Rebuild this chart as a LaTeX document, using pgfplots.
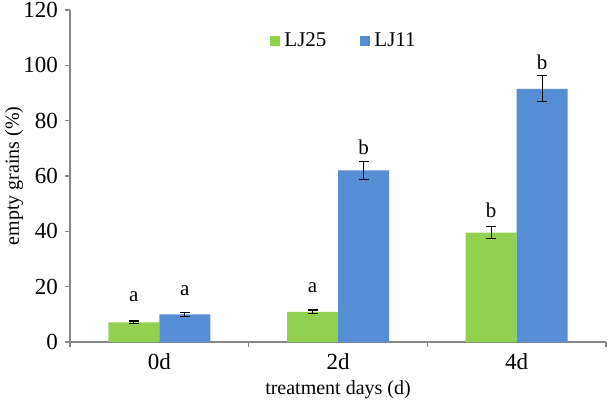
\documentclass[border=0pt]{standalone}
\usepackage{pgfplots}
\pgfplotsset{compat=1.18}
\usepackage{fontspec}
\setmainfont{Liberation Serif}
\definecolor{cg}{RGB}{146,208,80}
\definecolor{cb}{RGB}{85,142,213}
\definecolor{axgrey}{RGB}{134,134,134}
\begin{document}
\begin{tikzpicture}
\begin{axis}[
  scale only axis,
  width=268pt, height=166pt,
  xmin=-0.5, xmax=2.5, ymin=0, ymax=120,
  ytick={0,20,40,60,80,100,120},
  xtick={-0.5,0.5,1.5,2.5},
  xticklabels={},
  extra x ticks={0,1,2},
  extra x tick labels={0d,2d,4d},
  extra x tick style={major tick length=0pt, xticklabel style={yshift=-2pt}},
  axis x line=bottom, axis y line=left,
  axis line style={draw=axgrey, line width=0.7pt, -},
  tick style={draw=axgrey, line width=0.7pt},
  tick align=outside,
  major tick length=2.5pt,
  tick label style={font=\fontsize{11.5}{12}\selectfont},
  /pgf/number format/assume math mode=true,
  every axis y label/.style={at={(axis description cs:0,0.5)}, xshift=-28pt, rotate=90, anchor=center, font=\fontsize{10}{12}\selectfont},
  every axis x label/.style={at={(axis description cs:0.5,0)}, yshift=-24pt, anchor=center, font=\fontsize{10}{12}\selectfont},
  ylabel={empty grains (\%)},
  xlabel={treatment days (d)},
  ybar, bar width=25.5pt,
  legend style={draw=none, fill=none, legend columns=2, at={(0.362,0.907)}, anchor=west,
    font=\fontsize{10.5}{11}\selectfont,
    /tikz/every even column/.append style={column sep=15pt}},
  error bars/error bar style={draw=black, line width=0.6pt},
  error bars/error mark options={rotate=90, mark size=2.5pt, line width=0.6pt, draw=black},
  clip=false,
]
\addplot[bar shift=-12.75pt, fill=cg, draw=none,
  legend image code/.code={\fill[cg] (0pt,-2.5pt) rectangle (5pt,2.5pt);},
  error bars/.cd, y dir=both, y explicit]
  table[x=x, y=y, y error=e] {
x y e
0 7.1 0.5
1 10.9 0.7
2 39.5 2.2
};
\addlegendentry{LJ25}
\addplot[bar shift=12.75pt, fill=cb, draw=none,
  legend image code/.code={\fill[cb] (0pt,-2.5pt) rectangle (5pt,2.5pt);},
  error bars/.cd, y dir=both, y explicit]
  table[x=x, y=y, y error=e] {
x y e
0 10.0 0.7
1 62.0 3.2
2 91.5 4.7
};
\addlegendentry{LJ11}
\addplot[forget plot, bar shift=-12.75pt, draw=none, fill=none,
  nodes near coords, point meta=explicit symbolic,
  every node near coord/.append style={anchor=base, font=\fontsize{10.5}{12}\selectfont}]
  table[x=x, y=y, meta=l] {
x y l
0 14.8 a
1 18.0 a
2 45.0 b
};
\addplot[forget plot, bar shift=12.75pt, draw=none, fill=none,
  nodes near coords, point meta=explicit symbolic,
  every node near coord/.append style={anchor=base, font=\fontsize{10.5}{12}\selectfont}]
  table[x=x, y=y, meta=l] {
x y l
0 16.9 a
1 67.7 b
2 98.4 b
};
\end{axis}
\pgfresetboundingbox
\useasboundingbox ([shift={(-35pt,-29.7pt)}]current axis.south west) rectangle ([shift={(1pt,5pt)}]current axis.north east);
\end{tikzpicture}
\end{document}
